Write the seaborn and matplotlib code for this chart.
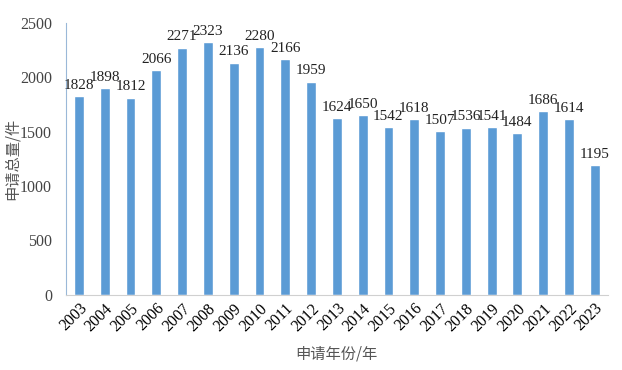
import numpy as np
import pandas as pd
import matplotlib
matplotlib.use("Agg")
import matplotlib.pyplot as plt
import seaborn as sns

years = [str(y) for y in range(2003, 2024)]
counts = [1828, 1898, 1812, 2066, 2271, 2323, 2136, 2280, 2166, 1959,
          1624, 1650, 1542, 1618, 1507, 1536, 1541, 1484, 1686, 1614, 1195]
y_ticks = [0, 500, 1000, 1500, 2000, 2500]

sns.set_style("white")
plt.rcParams['font.family'] = ['Liberation Serif', 'Noto Sans CJK SC', 'DejaVu Sans']

df = pd.DataFrame({"year": years, "count": counts})

fig = plt.figure(figsize=(6.22, 3.70), dpi=100)
ax = fig.add_axes([0.106, 0.203, 0.871, 0.735])

sns.barplot(data=df, x="year", y="count", color="#5b9bd5", saturation=1,
            width=0.38, ax=ax)

for i, v in enumerate(counts):
    ax.text(i, v + 40, str(v), ha="center", va="bottom", fontsize=11,
            color="#222222")

ax.set_ylim(0, 2500)
ax.set_xlim(-0.5, len(years) - 0.5)
ax.set_yticks(y_ticks)
ax.set_yticklabels([str(t) for t in y_ticks], fontsize=11.5, color="#444444")
ax.set_xticks(range(len(years)))
ax.set_xticklabels(years, rotation=45, ha="right", rotation_mode="anchor",
                   fontsize=11.5, color="black")
ax.set_xticks(np.arange(-0.5, len(years), 1), minor=True)
ax.tick_params(axis="x", which="major", length=0, pad=4)
ax.tick_params(axis="x", which="minor", length=4, color="#d0d0d0", direction="in")
ax.tick_params(axis="y", length=4, direction="in", color="#9ab8d8", pad=10)

for side in ["top", "right"]:
    ax.spines[side].set_visible(False)
ax.spines["left"].set_color("#9ab8d8")
ax.spines["bottom"].set_color("#d0d0d0")

ax.set_xlabel("申请年份/年", fontsize=11, color="#555555", labelpad=8,
              family=['Noto Sans CJK SC', 'DejaVu Sans'])
ax.set_ylabel("申请总量/件", fontsize=11, color="#555555",
              family=['Noto Sans CJK SC', 'DejaVu Sans'])
ax.yaxis.set_label_coords(-0.083, 0.5)

fig.savefig("out.png", dpi=100)
